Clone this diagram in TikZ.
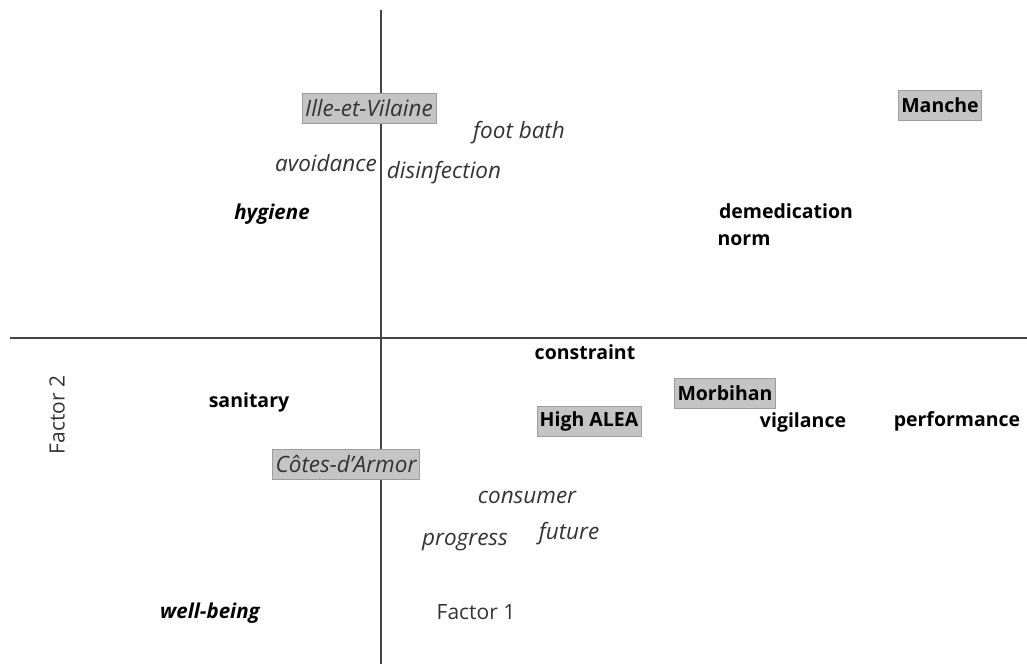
\documentclass[tikz,border=0pt]{standalone}
\usepackage{fontspec}
\setmainfont{Open Sans}
\usetikzlibrary{positioning}
\definecolor{axisgray}{HTML}{444444}
\definecolor{boxgray}{HTML}{C4C4C4}
\definecolor{textgray}{HTML}{333333}
\tikzset{
    axis/.style={draw=axisgray,line width=1.3pt},
    word/.style={inner sep=1pt,font=\fontsize{21}{24}\selectfont},
    plain/.style={word,text=textgray,font=\fontsize{22.5}{26}\selectfont\itshape},
    strong/.style={word,text=black,font=\fontsize{19.5}{22}\selectfont\bfseries},
    strongit/.style={word,text=black,font=\fontsize{20.5}{24}\selectfont\bfseries\itshape},
    region/.style={fill=boxgray,draw=boxgray!80!black,inner sep=3pt,minimum height=30pt}
}

\begin{document}
\begin{tikzpicture}[x=1pt,y=-1pt]
    \useasboundingbox (0,0) rectangle (1027,664);
    % axes
    \coordinate (vtop) at (381,10);
    \coordinate (vbot) at (381,664);
    \coordinate (hleft) at (10,338);
    \coordinate (hright) at (1027,338);
    \draw[axis] (vtop) -- (vbot);
    \draw[axis] (hleft) -- (hright);
    % regions
    \node[plain,region] (ille) at (369,108) {Ille-et-Vilaine};
    \node[strong,region] (manche) at (940,105) {Manche};
    \node[strong,region] (morbihan) at (725,393) {Morbihan};
    \node[strong,region] (alea) at (589,421) {High ALEA};
    \node[plain,region] (cotes) at (346,464) {Côtes-d’Armor};
    % upper half
    \node[plain] (foot) at (519,133) {foot bath};
    \node[plain] (avoid) at (326,163) {avoidance};
    \node[plain] (disinf) at (444,173) {disinfection};
    \node[strongit] (hyg) at (272,214) {hygiene};
    \node[strong] (demed) at (786,211) {demedication};
    \node[strong] (norm) at (744,240) {norm};
    % lower half
    \node[strong] (constr) at (585,352) {constraint};
    \node[strong] (vigil) at (803,422) {vigilance};
    \node[strong] (perf) at (957,421) {performance};
    \node[strong] (sanit) at (249,402) {sanitary};
    \node[plain] (consum) at (527,497) {consumer};
    \node[plain] (future) at (569,534) {future};
    \node[plain] (progr) at (465,542) {progress};
    \node[strongit] (well) at (210,613) {well-being};
    % factor labels
    \node[word,text=textgray] (f1) at (476,612) {Factor 1};
    \node[word,text=textgray,rotate=90] (f2) at (57,415) {Factor 2};
\end{tikzpicture}
\end{document}
